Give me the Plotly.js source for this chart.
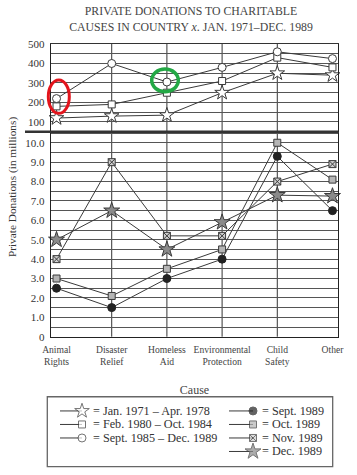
<!DOCTYPE html>
<html>
<head>
<meta charset="utf-8">
<script src="https://cdn.plot.ly/plotly-3.0.1.min.js"></script>
<style>html,body{margin:0;padding:0;background:#fff;}#chart{width:357px;height:475px;}</style>
</head>
<body>
<div id="chart"></div>
<script>
// ---- data ----
const categories = ['Animal Rights', 'Disaster Relief', 'Homeless Aid', 'Environmental Protection', 'Child Safety', 'Other'];
const tickLabels = ['Animal<br>Rights', 'Disaster<br>Relief', 'Homeless<br>Aid', 'Environmental<br>Protection', 'Child<br>Safety', 'Other'];
const seriesNames = ['Jan. 1971 – Apr. 1978', 'Feb. 1980 – Oct. 1984', 'Sept. 1985 – Dec. 1989', 'Sept. 1989', 'Oct. 1989', 'Nov. 1989', 'Dec. 1989'];
const jan1971Apr1978 = [120, 130, 135, 250, 350, 340];
const feb1980Oct1984 = [180, 190, 250, 310, 430, 380];
const sep1985Dec1989 = [220, 400, 305, 380, 460, 425];
const sep1989 = [2.5, 1.5, 3.0, 4.0, 9.3, 6.5];
const oct1989 = [3.0, 2.1, 3.5, 4.5, 10.0, 8.1];
const nov1989 = [4.0, 9.0, 5.2, 5.2, 8.0, 8.9];
const dec1989 = [5.0, 6.5, 4.5, 5.9, 7.3, 7.25];
const upperTicks = [100, 200, 300, 400, 500];
const lowerTicks = [0, 1, 2, 3, 4, 5, 6, 7, 8, 9, 10];
const lowerTickText = ['0', '1.0', '2.0', '3.0', '4.0', '5.0', '6.0', '7.0', '8.0', '9.0', '10.0'];

// ---- styles ----
const LINE = '#3a3a3a';
const FONT = 'Liberation Serif, DejaVu Serif, serif';
const styles = [
  {symbol: 'star', size: 11, color: '#ffffff', line: {color: LINE, width: 1}},
  {symbol: 'square', size: 7, color: '#ffffff', line: {color: LINE, width: 1}},
  {symbol: 'circle', size: 8, color: '#ffffff', line: {color: LINE, width: 1}},
  {symbol: 'circle', size: 8, color: '#222222', line: {color: '#222222', width: 1}},
  {symbol: 'square', size: 7, color: '#b5b5b5', line: {color: LINE, width: 1}},
  {symbol: 'square-x', size: 7, color: '#d0d0d0', line: {color: LINE, width: 1}},
  {symbol: 'star', size: 12, color: '#8a8a8a', line: {color: LINE, width: 1}}
];
const values = [jan1971Apr1978, feb1980Oct1984, sep1985Dec1989, sep1989, oct1989, nov1989, dec1989];
const xIdx = categories.map((c, i) => i);

const traces = values.map((v, i) => ({
  type: 'scatter', mode: 'lines+markers',
  name: seriesNames[i],
  x: xIdx, y: v,
  text: categories,
  xaxis: i < 3 ? 'x2' : 'x',
  yaxis: i < 3 ? 'y2' : 'y',
  line: {color: LINE, width: 1},
  marker: styles[i],
  cliponaxis: false,
  showlegend: false,
  hovertemplate: '%{text}: %{y}<extra>' + seriesNames[i] + '</extra>'
}));

// ---- custom legend (keys on a helper axis) ----
const legendCols = [0, 0, 0, 1, 1, 1, 1];
const legendRows = [0, 1, 2, 0, 1, 2, 3];
const keyStart = [60, 229], keyEnd = [82, 253], textStart = [91, 260];
const annotations = [];
seriesNames.forEach((n, i) => {
  const c = legendCols[i], r = legendRows[i];
  traces.push({
    type: 'scatter', mode: 'lines+markers', xaxis: 'x3', yaxis: 'y3',
    x: [keyStart[c], keyEnd[c]], y: [r, r],
    line: {color: LINE, width: 1},
    marker: Object.assign({}, styles[i], {size: [0, styles[i].size]}),
    cliponaxis: false, showlegend: false, hoverinfo: 'skip'
  });
  annotations.push({
    xref: 'x3', yref: 'y3', x: textStart[c], y: r, xanchor: 'left', yanchor: 'middle',
    text: '= ' + n, showarrow: false, font: {family: FONT, size: 12.2, color: '#333'}
  });
});

annotations.push({
  xref: 'paper', yref: 'paper', x: -0.136, y: 0.664, xanchor: 'center', yanchor: 'middle', textangle: -90,
  text: 'Private Donations (in millions)', showarrow: false,
  font: {family: FONT, size: 11.3, color: '#333'}
});

const shapes = [];
[1, 2, 3, 4].forEach(k => shapes.push({
  type: 'line', xref: 'x', yref: 'paper', x0: k, x1: k, y0: 0.3129, y1: 1,
  line: {color: '#333', width: 1}, layer: 'below'
}));
// axis break line
shapes.push({type: 'line', xref: 'paper', yref: 'paper', x0: -0.0906, x1: 1, y0: 0.7941, y1: 0.7941,
  line: {color: '#333', width: 2.5}});
// highlight ellipses
shapes.push({type: 'circle', xref: 'paper', yref: 'paper', x0: -0.0094, x1: 0.0638, y0: 0.8373, y1: 0.9155,
  line: {color: '#e3141c', width: 3}});
shapes.push({type: 'circle', xref: 'paper', yref: 'paper', x0: 0.3509, x1: 0.4436, y0: 0.888, y1: 0.9413,
  line: {color: '#23a845', width: 3.5}});
// legend box
shapes.push({type: 'rect', xref: 'paper', yref: 'paper', x0: -0.0129, x1: 0.9815, y0: 0.0077, y1: 0.172,
  line: {color: '#666', width: 1.3}});

const axFont = {family: FONT, size: 11, color: '#333'};
const layout = {
  width: 357, height: 475,
  margin: {l: 51, r: 19, t: 44, b: 5},
  paper_bgcolor: '#fff', plot_bgcolor: '#fff',
  font: {family: FONT, color: '#333'},
  title: {
    text: 'PRIVATE DONATIONS TO CHARITABLE<br>CAUSES IN COUNTRY <i>x</i>. JAN. 1971–DEC. 1989',
    font: {family: FONT, size: 11.8, color: '#444'},
    xref: 'container', x: 0.535, xanchor: 'center',
    yref: 'container', y: 0.968, yanchor: 'top'
  },
  xaxis: {
    domain: [0, 1], anchor: 'y', range: [-0.1, 5.1], autorange: false,
    tickvals: xIdx, ticktext: tickLabels, tickfont: {family: FONT, size: 9.6, color: '#444'},
    ticks: 'outside', ticklen: 3, tickcolor: 'rgba(0,0,0,0)', showgrid: false, zeroline: false,
    showline: true, linecolor: '#222', linewidth: 1.3,
    title: {text: 'Cause', font: {family: FONT, size: 12, color: '#444'}, standoff: 19},
    automargin: false
  },
  yaxis: {
    domain: [0.3129, 0.7941], anchor: 'x', range: [0, 10.57], autorange: false,
    tickvals: lowerTicks, ticktext: lowerTickText, tickfont: axFont,
    ticks: 'outside', ticklen: 3, tickcolor: 'rgba(0,0,0,0)',
    showgrid: true, gridcolor: '#555', gridwidth: 1,
    minor: {dtick: 0.5, tick0: 0, showgrid: true, gridcolor: '#555', gridwidth: 1},
    zeroline: false, showline: true, mirror: true, linecolor: '#222', linewidth: 1.2,
    automargin: false
  },
  xaxis2: {
    domain: [0, 1], anchor: 'y2', range: [-0.1, 5.1], autorange: false,
    showticklabels: false, ticks: '', showgrid: false, zeroline: false,
    showline: true, mirror: true, linecolor: '#333', linewidth: 1
  },
  yaxis2: {
    domain: [0.7941, 1], anchor: 'x2', range: [50, 500], autorange: false,
    tickvals: upperTicks, tickfont: axFont,
    ticks: 'outside', ticklen: 3, tickcolor: 'rgba(0,0,0,0)',
    showgrid: true, gridcolor: '#555', gridwidth: 1,
    minor: {dtick: 50, tick0: 0, showgrid: true, gridcolor: '#555', gridwidth: 1},
    zeroline: false, showline: true, mirror: true, linecolor: '#222', linewidth: 1.2,
    automargin: false
  },
  xaxis3: {domain: [0, 1], anchor: 'y3', range: [51, 338], autorange: false, visible: false, fixedrange: true},
  yaxis3: {domain: [0, 0.171], anchor: 'x3', range: [4.37, -1.02], autorange: false, visible: false, fixedrange: true},
  showlegend: false,
  shapes: shapes,
  annotations: annotations
};

Plotly.newPlot('chart', traces, layout, {displayModeBar: false, staticPlot: true});
</script>
</body>
</html>
